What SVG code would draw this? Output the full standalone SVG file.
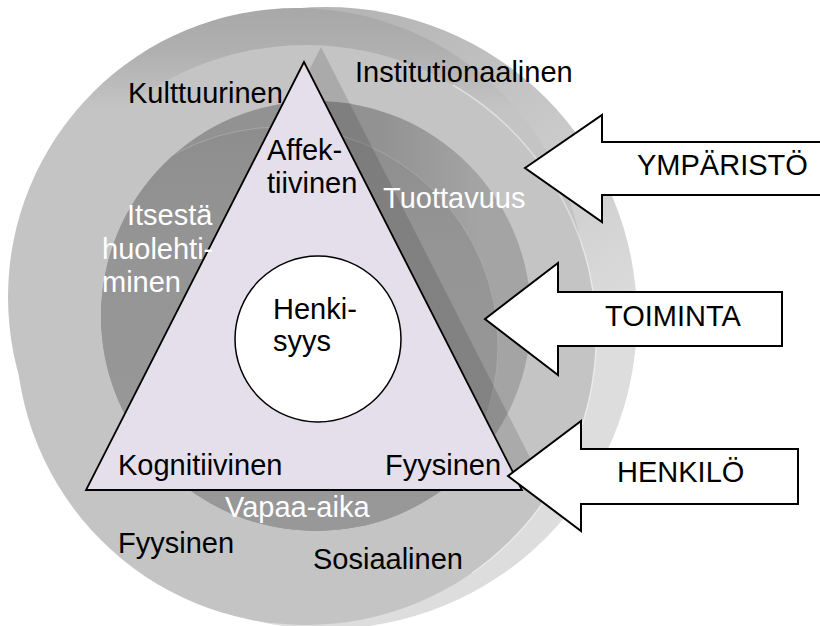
<svg xmlns="http://www.w3.org/2000/svg" width="820" height="626" viewBox="0 0 820 626">
  <style>
    text { font-family: "Liberation Sans", Arial, sans-serif; font-size: 29px; }
    .dark { fill: #000000; }
    .light { fill: #ffffff; }
    .arrow { fill: #ffffff; stroke: #000000; stroke-width: 2; stroke-linejoin: miter; }
  </style>
  <defs>
    <linearGradient id="gRim" gradientUnits="userSpaceOnUse" x1="400" y1="0" x2="620" y2="330">
      <stop offset="0" stop-color="#b6b6b6"/>
      <stop offset="1" stop-color="#dddddd"/>
    </linearGradient>
    <linearGradient id="gTop" gradientUnits="userSpaceOnUse" x1="0" y1="9" x2="0" y2="110">
      <stop offset="0" stop-color="#a8a8a8"/>
      <stop offset="0.4" stop-color="#afafaf"/>
      <stop offset="1" stop-color="#c4c4c4"/>
    </linearGradient>
    <linearGradient id="gMid" gradientUnits="userSpaceOnUse" x1="0" y1="101" x2="0" y2="531">
      <stop offset="0" stop-color="#8c8c8c"/>
      <stop offset="0.35" stop-color="#959595"/>
      <stop offset="1" stop-color="#989898"/>
    </linearGradient>
    <linearGradient id="gCres" gradientUnits="userSpaceOnUse" x1="380" y1="0" x2="480" y2="0">
      <stop offset="0" stop-color="#929292"/>
      <stop offset="1" stop-color="#a4a4a4"/>
    </linearGradient>
    <clipPath id="clipMid">
      <circle cx="316" cy="316" r="215"/>
    </clipPath>
  </defs>

  <g id="outer-ring">
    <circle cx="326" cy="318" r="311" fill="url(#gRim)"/>
    <circle cx="297" cy="297" r="289" fill="url(#gTop)"/>
    <circle cx="306" cy="335" r="290" fill="#c4c4c4"/>
    <path d="M 453,85 A 290 290 0 0 1 472,573" fill="none" stroke="#ffffff" stroke-opacity="0.45" stroke-width="1.5"/>
  </g>

  <g id="middle-ring">
    <circle cx="316" cy="316" r="215" fill="url(#gCres)"/>
    <g clip-path="url(#clipMid)">
      <circle cx="280" cy="345" r="218" fill="url(#gMid)"/>
      <circle cx="280" cy="345" r="218" fill="none" stroke="#b4b4b4" stroke-opacity="0.6" stroke-width="1"/>
    </g>
  </g>

  <g id="shadow">
    <polygon points="321,47 103,475 539,475" fill="#000000" fill-opacity="0.13"/>
  </g>

  <g id="triangle">
    <polygon points="304,62 86,490 522,490" fill="#e4dfeb" stroke="#000000" stroke-width="1.8" stroke-linejoin="miter"/>
  </g>

  <g id="henkisyys">
    <circle cx="318" cy="339" r="83" fill="#ffffff" stroke="#000000" stroke-width="1.5"/>
    <text class="dark" x="273" y="319">Henki-</text>
    <text class="dark" x="273" y="351">syys</text>
  </g>

  <g id="labels-outer">
    <text class="dark" x="128" y="103">Kulttuurinen</text>
    <text class="dark" x="355" y="82">Institutionaalinen</text>
    <text class="dark" x="118" y="553">Fyysinen</text>
    <text class="dark" x="313" y="569">Sosiaalinen</text>
  </g>

  <g id="labels-middle">
    <text class="light" x="383" y="208">Tuottavuus</text>
    <text class="light" x="127" y="225">Itsestä</text>
    <text class="light" x="102" y="259">huolehti-</text>
    <text class="light" x="102" y="292">minen</text>
    <text class="light" x="225" y="517">Vapaa-aika</text>
  </g>

  <g id="labels-triangle">
    <text class="dark" x="267" y="160">Affek-</text>
    <text class="dark" x="267" y="193">tiivinen</text>
    <text class="dark" x="118" y="475">Kognitiivinen</text>
    <text class="dark" x="385" y="475">Fyysinen</text>
  </g>

  <g id="connectors">
    <g id="arrow-ymparisto">
      <polygon class="arrow" points="525,168 602,115 602,142 822,142 822,195 602,195 602,222"/>
      <text class="dark" x="637" y="175">YMPÄRISTÖ</text>
    </g>
    <g id="arrow-toiminta">
      <polygon class="arrow" points="485,319 558,263 558,292 782,292 782,346 558,346 558,375"/>
      <text class="dark" x="605" y="326">TOIMINTA</text>
    </g>
    <g id="arrow-henkilo">
      <polygon class="arrow" points="508,476 581,421 581,449 798,449 798,504 581,504 581,531"/>
      <text class="dark" x="617" y="482">HENKILÖ</text>
    </g>
  </g>
</svg>
